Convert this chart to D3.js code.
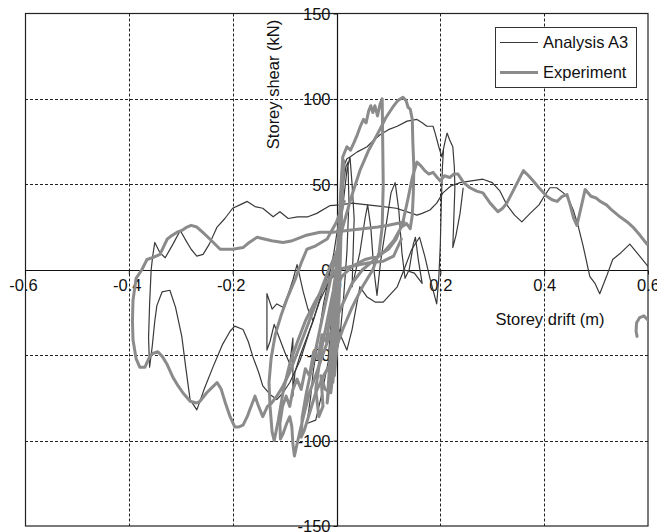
<!DOCTYPE html>
<html>
<head>
<meta charset="utf-8">
<script src="https://cdn.jsdelivr.net/npm/d3@7"></script>
<style>
  body { margin: 0; background: #fff; }
  text { font-family: Arial, "Liberation Sans", Helvetica, sans-serif; fill: #111; }
</style>
</head>
<body>
<div id="chart"></div>
<script>
// tick values
var xTicks = [-0.6, -0.4, -0.2, 0, 0.2, 0.4, 0.6],
    yTicks = [-150, -100, -50, 0, 50, 100, 150];

// Experiment: [drift (m), shear (kN)], one array per branch
var expCycles = [
  [0,0],[0.004,22],[0.008,42],[0.01,55],[0.007,30],[0.002,5],[-0.004,-22],[-0.009,-42],[-0.012,-55],[-0.006,-30],
  [0,-5],[0.006,28],[0.011,50],[0.014,64],[0.01,35],[0.004,8],[-0.003,-25],[-0.008,-50],[-0.014,-68],[-0.018,-78],
  [-0.012,-50],[-0.005,-20],[0.003,15],[0.008,45],[0.012,66],[0.02,72],[0.027,70],[0.033,74],[0.04,79],[0.046,84],
  [0.052,88],[0.057,86],[0.062,93],[0.066,96],[0.07,92],[0.074,96],[0.079,90],[0.084,97],[0.088,100],[0.089,75],
  [0.09,50],[0.088,25],[0.082,10],[0.07,0],[0.05,-10],[0.03,-22],[0.012,-35],[0,-45],[-0.012,-55],[-0.025,-62],
  [-0.04,-72],[-0.052,-84],[-0.062,-94],[-0.068,-98],[-0.066,-86],[-0.058,-72],[-0.046,-55],[-0.032,-35],[-0.018,-15],
  [-0.004,5],[0.012,25],[0.028,42],[0.045,58],[0.062,70],[0.08,80],[0.095,89],[0.108,95],[0.118,99],[0.128,101],
  [0.134,99],[0.138,95],[0.142,94],[0.146,88],[0.147,75],[0.149,60],[0.148,45],[0.146,32],[0.142,24],[0.135,27],
  [0.125,25],[0.11,17],[0.09,10],[0.07,5],[0.05,0],[0.03,-8],[0.012,-20],[-0.005,-32],[-0.022,-46],[-0.038,-60],
  [-0.052,-72],[-0.062,-84],[-0.07,-94],[-0.076,-102],[-0.081,-109],[-0.084,-102],[-0.086,-92],[-0.09,-86],[-0.096,-90],
  [-0.103,-96],[-0.108,-99],[-0.109,-90],[-0.104,-80],[-0.097,-74],[-0.09,-80],[-0.084,-70],[-0.076,-64],[-0.068,-70],
  [-0.06,-58],[-0.052,-62],[-0.044,-48],[-0.036,-52],[-0.028,-38],[-0.02,-42],[-0.012,-28],[-0.004,-14],[0.01,-4],
  [0.03,2],[0.055,6],[0.08,8],[0.1,12],[0.115,18],[0.128,28],[0.138,42],[0.146,54],[0.155,63],[0.162,61],[0.17,58],
  [0.178,56],[0.186,57],[0.194,54],[0.2,52],[0.208,55],[0.218,54],[0.226,56],[0.234,56],[0.245,51],[0.257,48],
  [0.27,46],[0.282,45],[0.296,39],[0.311,34],[0.32,36],[0.328,39],[0.34,46],[0.35,52],[0.36,58],[0.37,55],[0.379,52],
  [0.39,48],[0.405,43],[0.415,41],[0.425,40],[0.435,43],[0.444,44],[0.45,38],[0.457,30],[0.463,26],[0.47,35],
  [0.479,47],[0.49,43],[0.5,42],[0.508,40],[0.52,38],[0.53,35],[0.546,31],[0.56,28],[0.571,25],[0.585,20],
  [0.598,15],[0.604,18],[0.62,20]
];
var expCore = [
  [0.002,-40],[0.006,-10],[0.009,25],[0.011,58],[0.008,30],[0.004,0],[0.001,-30],[-0.002,-55],[0.001,-35],
  [0.005,-5],[0.009,30],[0.012,62],[0.01,40],[0.006,10],[0.003,-20],[0,-48],[-0.004,-62],[-0.001,-40],[0.003,-12],
  [0.007,20],[0.01,48],[0.013,60],[0.009,28],[0.005,-2],[0.001,-25],[-0.003,-50],[-0.007,-66],[-0.004,-45],[0,-20],
  [0.004,8],[0.008,38],[0.011,55],[0.007,22],[0.003,-8],[-0.001,-36],[-0.006,-58],[-0.011,-72],[-0.022,-70],
  [-0.03,-62],[-0.026,-80],[-0.034,-86],[-0.04,-70],[-0.03,-48],[-0.018,-30],[-0.006,-12],[0.004,10]
];
var expBlob = [[0.62,-30],[0.605,-31],[0.592,-27],[0.584,-28],[0.578,-31],[0.577,-36],[0.579,-39]];
var expLeft = [
  [0.13,28],[0.1,26],[0.08,25],[0.05,24],[0.02,23],[-0.007,22],[-0.032,22],[-0.06,20],[-0.085,17],[-0.103,16],
  [-0.125,17],[-0.153,19],[-0.168,16],[-0.18,13],[-0.2,12],[-0.224,12],[-0.244,18],[-0.258,22],[-0.269,25],[-0.28,26],
  [-0.288,25],[-0.298,23],[-0.307,22],[-0.317,20],[-0.326,18],[-0.34,9],[-0.355,7],[-0.365,6],[-0.375,0],[-0.386,-5],
  [-0.392,-18],[-0.393,-30],[-0.392,-41],[-0.386,-52],[-0.379,-57],[-0.369,-57],[-0.36,-51],[-0.354,-49],[-0.344,-48],
  [-0.335,-51],[-0.327,-55],[-0.315,-63],[-0.305,-68],[-0.296,-72],[-0.282,-77],[-0.27,-78],[-0.263,-77],[-0.25,-72],
  [-0.24,-69],[-0.23,-66],[-0.222,-70],[-0.214,-78],[-0.205,-86],[-0.196,-92],[-0.188,-92],[-0.18,-91],[-0.172,-86],
  [-0.167,-82],[-0.157,-74],[-0.15,-80],[-0.142,-86],[-0.133,-80],[-0.125,-78],[-0.115,-74],[-0.103,-68],[-0.09,-60],
  [-0.075,-48],[-0.06,-36],[-0.045,-24],[-0.03,-12],[-0.015,0],[0,10]
];
var expInner = [
  [0.015,40],[0,28],[-0.018,18],[-0.04,14],[-0.057,12],[-0.068,4],[-0.08,-6],[-0.094,-16],[-0.106,-26],[-0.118,-38],
  [-0.126,-52],[-0.13,-66],[-0.128,-80],[-0.124,-95],[-0.12,-100],[-0.112,-88],[-0.102,-70],[-0.09,-55],[-0.075,-42],
  [-0.06,-30],[-0.04,-18],[-0.02,-8],[0,0],[0.03,2],[0.06,4],[0.09,5],[0.11,8],[0.125,18]
];

// Analysis A3
var anaInner = [
  [0,0],[0.006,25],[0.012,48],[0.018,60],[0.022,63],[0.024,40],[0.02,10],[0.014,-15],[0.008,-35],[0,-50],
  [-0.008,-58],[-0.016,-52],[-0.01,-30],[-0.002,-8],[0.006,18],[0.014,42],[0.02,58],[0.026,66],[0.03,50],[0.034,30],
  [0.03,-10],[0.045,10],[0.055,30],[0.06,38],[0.066,25],[0.072,0],[0.078,-15],[0.085,5],[0.095,25],[0.105,45],
  [0.113,51],[0.12,35],[0.126,10],[0.132,-5],[0.14,0],[0.148,15],[0.152,19],[0.158,5],[0.165,-8],[0.15,-2],
  [0.13,0],[0.117,-10],[0.105,-14],[0.09,-19],[0.075,-19],[0.059,-16],[0.045,-10],[0.03,-35],[0.02,-47],[0.01,-40],
  [0,-30],[-0.01,-45],[-0.02,-60],[-0.03,-75],[-0.04,-88],[-0.057,-90],[-0.05,-75],[-0.045,-60],[-0.035,-40],
  [-0.025,-20],[-0.015,-5],[-0.005,10],[0.005,30],[0.012,50],[0.016,62],[0.02,65],[0.026,66],[0.04,69],[0.059,72],
  [0.072,76],[0.084,79],[0.1,82],[0.117,84],[0.136,87],[0.155,88],[0.165,86],[0.174,84],[0.186,84],[0.19,80],
  [0.197,72],[0.203,66],[0.209,75],[0.213,80],[0.218,76],[0.224,72],[0.227,60],[0.228,48],[0.226,30],[0.224,13],
  [0.23,20],[0.238,33],[0.244,48]
];
var anaDip = [
  [0.13,0],[0.145,12],[0.16,19],[0.17,8],[0.18,-5],[0.193,-20],[0.197,-5],[0.2,15],[0.202,40],[0.204,60],[0.206,70]
];
var anaMid = [
  [-0.015,-2],[-0.03,-15],[-0.045,-30],[-0.055,-23],[-0.064,-13],[-0.076,3],[-0.084,-6],[-0.095,-16],[-0.103,-22],
  [-0.115,-20],[-0.124,-23],[-0.134,-14],[-0.134,-30],[-0.134,-47],[-0.128,-42],[-0.12,-32],[-0.11,-40],[-0.1,-48],
  [-0.09,-55],[-0.084,-40],[-0.084,-74],[-0.08,-60],[-0.07,-50],[-0.06,-42],[-0.045,-30],[-0.03,-15],[-0.015,-2]
];
var anaOuter = [
  [0.615,-10],[0.6,2],[0.584,8],[0.565,15],[0.548,10],[0.532,6],[0.52,-4],[0.507,-14],[0.498,-8],[0.488,-4],
  [0.475,14],[0.466,25],[0.456,35],[0.446,42],[0.437,45],[0.424,48],[0.411,48],[0.4,43],[0.39,38],[0.373,33],
  [0.357,28],[0.343,32],[0.328,38],[0.315,46],[0.3,51],[0.282,53],[0.26,52],[0.238,51],[0.22,49],[0.205,45],
  [0.193,39],[0.18,35],[0.165,33],[0.155,32],[0.135,34],[0.115,36],[0.09,37],[0.06,38],[0.03,39],[0.007,38],
  [-0.013,37.5],[-0.038,33],[-0.055,31],[-0.075,31],[-0.093,30],[-0.109,34],[-0.122,31],[-0.142,36],[-0.157,37],
  [-0.172,40],[-0.186,38],[-0.2,36],[-0.215,30],[-0.23,25],[-0.245,15],[-0.257,9],[-0.269,8],[-0.28,12],[-0.288,16],
  [-0.301,23],[-0.315,15],[-0.33,7],[-0.34,10],[-0.35,16],[-0.354,8],[-0.357,0],[-0.36,-20],[-0.362,-40],[-0.36,-57],
  [-0.355,-45],[-0.35,-30],[-0.346,-21],[-0.336,-13],[-0.321,-12],[-0.31,-22],[-0.298,-39],[-0.29,-58],[-0.282,-76],
  [-0.269,-82],[-0.255,-70],[-0.238,-57],[-0.22,-44],[-0.205,-36],[-0.196,-33],[-0.18,-35],[-0.17,-42],[-0.161,-51],
  [-0.15,-60],[-0.142,-68],[-0.128,-73],[-0.115,-76],[-0.103,-72],[-0.09,-66],[-0.07,-53],[-0.051,-35],[-0.032,-18],
  [-0.013,-6],[0.007,0]
];

var analysisSeries = [anaOuter, anaMid, anaInner, anaDip],
    experimentSeries = [expLeft, expInner, expCycles, expCore, expBlob];

var W = 657, H = 532,
    plot = {left: 25, right: 648, top: 13.5, bottom: 526},
    font_size = "16.5px",
    ana_color = "#3a3a3a",
    exp_color = "#8b8b8b";

var x = d3.scaleLinear().domain([-0.6, 0.6]).range([plot.left, plot.right]),
    y = d3.scaleLinear().domain([-150, 150]).range([plot.bottom, plot.top]);

var svg = d3.select("#chart").append("svg")
  .attr("width", W)
  .attr("height", H);

svg.append("defs").append("clipPath")
  .attr("id", "clip")
  .append("rect")
    .attr("x", plot.left).attr("y", plot.top)
    .attr("width", plot.right - plot.left)
    .attr("height", plot.bottom - plot.top);

// Grid
var grid = svg.append("g").attr("class", "grid")
  .attr("stroke", "#222")
  .attr("stroke-width", 1)
  .attr("stroke-dasharray", "3,2");

grid.selectAll(".vgrid")
  .data(xTicks.filter(function(d) { return d != 0 && Math.abs(d) != 0.6; }))
  .enter().append("line")
    .attr("x1", function(d) { return Math.round(x(d)) + 0.5; })
    .attr("x2", function(d) { return Math.round(x(d)) + 0.5; })
    .attr("y1", plot.top).attr("y2", plot.bottom);

grid.selectAll(".hgrid")
  .data(yTicks.filter(function(d) { return d != 0 && Math.abs(d) != 150; }))
  .enter().append("line")
    .attr("y1", function(d) { return Math.round(y(d)) + 0.5; })
    .attr("y2", function(d) { return Math.round(y(d)) + 0.5; })
    .attr("x1", plot.left).attr("x2", plot.right);

// Frame
svg.append("rect")
  .attr("x", plot.left + 0.5).attr("y", plot.top)
  .attr("width", plot.right - plot.left - 0.5)
  .attr("height", plot.bottom - plot.top)
  .attr("fill", "none")
  .attr("stroke", "#222")
  .attr("stroke-width", 1.2);

// Axes through the origin (plain hyphen minus, as in the original)
var fmt = function(d) { return String(d); };
var xAxis = d3.axisBottom(x).tickValues(xTicks).tickSize(4).tickFormat(fmt);
var yAxis = d3.axisLeft(y).tickValues(yTicks).tickSize(4).tickFormat(fmt);

var gx = svg.append("g")
  .attr("transform", "translate(0," + (Math.round(y(0)) + 0.5) + ")")
  .call(xAxis);
gx.select(".domain").remove();
gx.append("line")
  .attr("x1", plot.left).attr("x2", plot.right)
  .attr("stroke", "#111").attr("stroke-width", 1.2);
gx.selectAll(".tick line").attr("stroke", "#111");
gx.selectAll(".tick text")
  .attr("font-size", font_size)
  .attr("font-family", "Arial, 'Liberation Sans', sans-serif")
  .attr("fill", "#111")
  .attr("y", 9)
  .attr("dx", function(d) { return d < 0 ? "-2px" : "0"; });

var gy = svg.append("g")
  .attr("transform", "translate(" + (Math.round(x(0)) + 0.5) + ",0)")
  .call(yAxis);
gy.select(".domain").remove();
gy.append("line")
  .attr("y1", plot.top).attr("y2", plot.bottom)
  .attr("stroke", "#111").attr("stroke-width", 1.2);
gy.selectAll(".tick line").attr("stroke", "#111");
gy.selectAll(".tick text")
  .attr("font-size", font_size)
  .attr("font-family", "Arial, 'Liberation Sans', sans-serif")
  .attr("fill", "#111")
  .attr("x", -7)
  .attr("dy", "0.35em");

// Data
var line = d3.line()
  .x(function(d) { return x(d[0]); })
  .y(function(d) { return y(d[1]); });

var data = svg.append("g").attr("clip-path", "url(#clip)");

data.selectAll(".ana")
  .data(analysisSeries)
  .enter().append("path")
    .attr("class", "ana")
    .attr("d", line)
    .attr("fill", "none")
    .attr("stroke", ana_color)
    .attr("stroke-width", 1.2)
    .attr("stroke-linejoin", "round");

data.selectAll(".exp")
  .data(experimentSeries)
  .enter().append("path")
    .attr("class", "exp")
    .attr("d", line)
    .attr("fill", "none")
    .attr("stroke", exp_color)
    .attr("stroke-width", 3)
    .attr("stroke-linejoin", "round")
    .attr("stroke-linecap", "round");

// Axis titles
svg.append("text")
  .attr("transform", "translate(279," + 84.5 + ") rotate(-90)")
  .attr("text-anchor", "middle")
  .attr("font-size", font_size)
  .text("Storey shear (kN)");

svg.append("text")
  .attr("x", 550).attr("y", 325)
  .attr("text-anchor", "middle")
  .attr("font-size", font_size)
  .text("Storey drift (m)");

// Legend
var legend = svg.append("g").attr("transform", "translate(495,27)");
legend.append("rect")
  .attr("x", 0.5).attr("y", 0.5)
  .attr("width", 141).attr("height", 60)
  .attr("fill", "#fff")
  .attr("stroke", "#333");

var legendItems = [
  {name: "Analysis A3", color: ana_color, width: 1.2},
  {name: "Experiment", color: exp_color, width: 3}
];
var li = legend.selectAll(".legend")
  .data(legendItems)
  .enter().append("g")
    .attr("class", "legend")
    .attr("transform", function(d, i) { return "translate(0," + (15.5 + i * 30) + ")"; });
li.append("line")
  .attr("x1", 5).attr("x2", 43)
  .attr("stroke", function(d) { return d.color; })
  .attr("stroke-width", function(d) { return d.width; });
li.append("text")
  .attr("x", 48).attr("dy", "0.36em")
  .attr("font-size", font_size)
  .text(function(d) { return d.name; });
</script>
</body>
</html>
